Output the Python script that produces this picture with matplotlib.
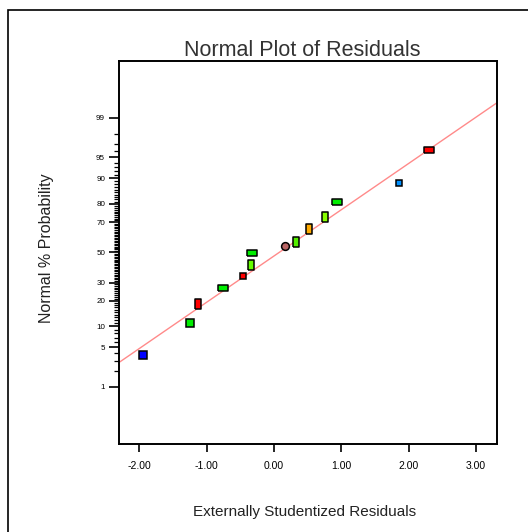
import numpy as np
import matplotlib
matplotlib.use('Agg')
import matplotlib.pyplot as plt
from matplotlib.patches import Rectangle
from statistics import NormalDist

plt.rcParams['font.family'] = ['Liberation Sans', 'DejaVu Sans']

# residuals (x) and their normal % probability (y)
residuals = [-1.94, -1.24, -1.13, -0.75, -0.46, -0.34, -0.32, 0.17, 0.33, 0.52, 0.76, 0.93, 1.86, 2.30]
probability = [3.8, 11.2, 18.7, 26.9, 34.2, 41.6, 49.4, 54.5, 57.4, 65.4, 72.9, 80.9, 88.5, 96.2]

# reference line end points (at the axes edges)
line_x = [-2.30, 3.31]
line_p = [2.82, 99.52]

x_ticks = [-2, -1, 0, 1, 2, 3]
y_ticks = [1, 5, 10, 20, 30, 50, 70, 80, 90, 95, 99]

# point look: colour and shape
colors = ['#0000ff', '#00ee00', '#ff0000', '#00ee00', '#ff0000', '#66ff00', '#00ee00',
          '#b86464', '#55ee00', '#ffaa00', '#88ff00', '#00ee00', '#0090ff', '#ff0000']
shapes = ['big', 'big', 'tall', 'wide', 'small', 'tall', 'wide',
          'round', 'tall', 'tall', 'tall', 'wide', 'small', 'wide']

nd = NormalDist()


def fwd(p):
    p = np.clip(np.asarray(p, dtype=float) / 100.0, 1e-9, 1 - 1e-9)
    return np.vectorize(nd.inv_cdf, otypes=[float])(p)


def inv(z):
    return np.vectorize(nd.cdf, otypes=[float])(np.asarray(z, dtype=float)) * 100.0


wide = [(-1, -0.62), (1, -0.62), (1, 0.62), (-1, 0.62), (-1, -0.62)]
tall = [(-0.62, -1), (0.62, -1), (0.62, 1), (-0.62, 1), (-0.62, -1)]
marker_of = {'big': ('s', 6.0), 'small': ('s', 4.4), 'wide': (wide, 6.8),
             'tall': (tall, 6.8), 'round': ('o', 5.6)}

fig = plt.figure(figsize=(5.28, 5.32), dpi=100)
ax = fig.add_axes([0.2254, 0.1654, 0.7159, 0.7207])
ax.set_yscale('function', functions=(fwd, inv))

ax.plot(line_x, line_p, color='#ff8a8a', lw=1.0, zorder=2)

for x, p, c, s in zip(residuals, probability, colors, shapes):
    m, ms = marker_of[s]
    ax.plot([x], [p], marker=m, ms=ms, mfc=c, mec='black', mew=1.1,
            linestyle='none', zorder=3)

ax.set_xlim(-2.30, 3.31)
ax.set_ylim(0.045, 99.955)

ax.set_xticks(x_ticks)
ax.set_xticklabels(['%.2f' % t for t in x_ticks])
ax.set_yticks(y_ticks)
ax.set_yticklabels([str(t) for t in y_ticks])
minor = [v for v in range(2, 99) if v not in y_ticks]
ax.set_yticks(minor, minor=True)
ax.set_xticks([], minor=True)

ax.tick_params(axis='x', which='major', direction='out', length=6, width=1.2,
               labelsize=7.5, pad=6, colors='black')
ax.tick_params(axis='y', which='major', direction='out', length=7, width=1.2,
               labelsize=5.8, pad=3)
ax.tick_params(axis='y', which='minor', direction='out', length=3.5, width=0.9)
for sp in ax.spines.values():
    sp.set_linewidth(1.4)

ax.set_title('Normal Plot of Residuals', fontsize=15.5, color='#333333',
             x=0.484, y=1.012, pad=0)
ax.set_xlabel('Externally Studentized Residuals', fontsize=11, color='#222222')
ax.xaxis.set_label_coords(0.492, -0.158)
ax.set_ylabel('Normal % Probability', fontsize=11.5, color='#222222')
ax.yaxis.set_label_coords(-0.172, 0.51)

fig.patches.append(Rectangle((0.016, -0.05), 1.1, 0.9812 + 0.05,
                             transform=fig.transFigure, fill=False,
                             lw=1.2, ec='black'))

fig.savefig('out.png', dpi=100)
